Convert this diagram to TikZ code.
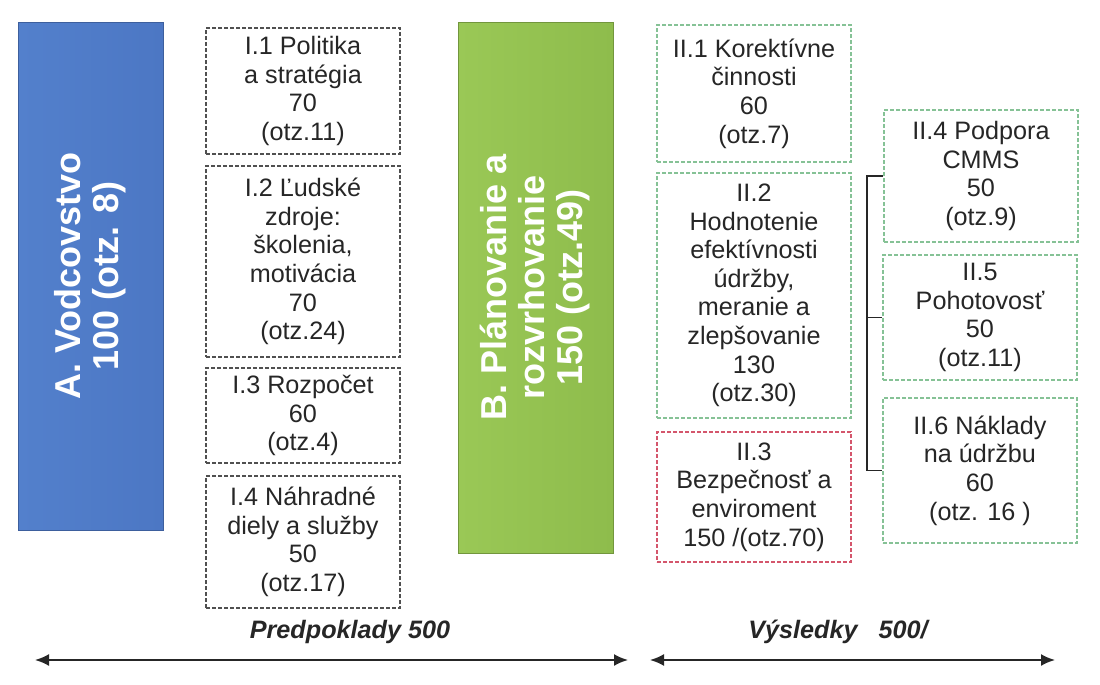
\documentclass[tikz,border=0pt]{standalone}
\usepackage{fontspec}
\setmainfont{Liberation Sans}
\usetikzlibrary{arrows.meta}

\definecolor{blueL}{HTML}{5380CC}
\definecolor{blueD}{HTML}{4C77C4}
\definecolor{greenL}{HTML}{9AC856}
\definecolor{greenD}{HTML}{8EBC4C}
\definecolor{dashgray}{HTML}{505050}
\definecolor{dashgreen}{HTML}{86C296}
\definecolor{dashred}{HTML}{D4566C}
\definecolor{ink}{HTML}{262626}

\begin{document}
\begin{tikzpicture}[x=0.5pt,y=-0.5pt,
  pillar/.style={rotate=90,inner sep=0pt,align=center,text=white,
    font=\fontsize{18}{19}\selectfont\bfseries},
  crit/.style={dash pattern=on 2pt off 1pt,line width=0.85pt,inner sep=0pt,
    minimum width=97pt,align=center,text=ink,
    font=\fontsize{12.6}{14.3}\selectfont},
  critI/.style={crit,draw=dashgray},
  critII/.style={crit,draw=dashgreen},
  critRed/.style={crit,draw=dashred},
  bracket/.style={draw=ink,line width=0.8pt},
  caption/.style={text=ink,font=\fontsize{12.6}{14}\selectfont\bfseries\itshape},
  axisarrow/.style={draw=ink,line width=1pt,{Latex[length=7pt,width=6pt]}-{Latex[length=7pt,width=6pt]}}]
 \useasboundingbox (0,0) rectangle (1100,685);
 % the two main areas
 \node[pillar,minimum width=254pt,minimum height=72.5pt,
   left color=blueL,right color=blueD,draw=blueD!80!black,line width=0.5pt]
   (lead) at (90.5,276) {A. Vodcovstvo\\100 (otz. 8)};
 \node[pillar,minimum width=265.5pt,minimum height=77.5pt,
   left color=greenL,right color=greenD,draw=greenD!80!black,line width=0.5pt]
   (plan) at (535.5,287.5) {B. Plánovanie a\\rozvrhovanie\\150 (otz.49)};
 % Predpoklady
 \node[critI,minimum height=63pt] (c1) at (303,91) {I.1 Politika\\a stratégia\\70\\(otz.11)};
 \node[critI,minimum height=95.5pt] (c2) at (303,261.5) {I.2 Ľudské\\zdroje:\\školenia,\\motivácia\\70\\(otz.24)};
 \node[critI,minimum height=47.5pt] (c3) at (303,415.5) {I.3 Rozpočet\\60\\(otz.4)};
 \node[critI,minimum height=66pt] (c4) at (303,542) {I.4 Náhradné\\diely a služby\\50\\(otz.17)};
 % Vysledky
 \node[critII,minimum height=68.5pt] (r1) at (754,93.5) {II.1 Korektívne\\činnosti\\60\\(otz.7)};
 \node[critII,minimum height=122.5pt] (r2) at (754,295.5) {II.2\\Hodnotenie\\efektívnosti\\údržby,\\meranie a\\zlepšovanie\\130\\(otz.30)};
 \node[critRed,minimum height=65pt] (r3) at (754,497) {II.3\\Bezpečnosť a\\enviroment\\150 /(otz.70)};
 \node[critII,minimum height=66pt] (r4) at (981,176) {II.4 Podpora\\CMMS\\50\\(otz.9)};
 \node[critII,minimum height=62.5pt] (r5) at (980,317.5) {II.5\\Pohotovosť\\50\\(otz.11)};
 \node[critII,minimum height=72.5pt] (r6) at (980,470.5) {II.6 Náklady\\na údržbu\\60\\(otz. 16 )};
 \coordinate (bus) at (867,0);
 \draw[bracket] (r4.west) -- (r4.west -| bus) |- (r6.west);
 \draw[bracket] (r5.west) -- (r5.west -| bus);
 % bottom
 \node[caption] (pre) at (350,632) {Predpoklady 500};
 \node[caption] (vys) at (838,632) {Výsledky\ \ \ 500/};
 \coordinate (preL) at (35,660);
 \coordinate (preR) at (628,660);
 \coordinate (vysL) at (650,660);
 \coordinate (vysR) at (1055,660);
 \draw[axisarrow] (preL) -- (preR);
 \draw[axisarrow] (vysL) -- (vysR);
\end{tikzpicture}
\end{document}
